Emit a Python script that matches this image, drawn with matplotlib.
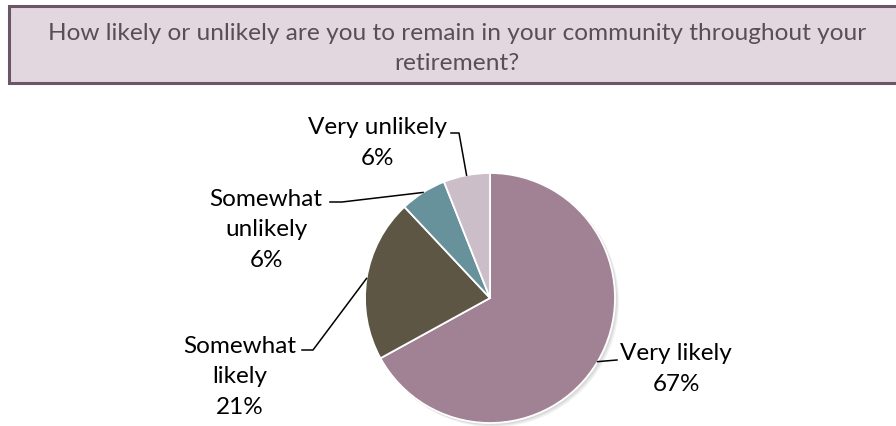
import numpy as np
import matplotlib
matplotlib.use("Agg")
import matplotlib.pyplot as plt
from matplotlib.patches import Rectangle, Circle

title = "How likely or unlikely are you to remain in your community throughout your\nretirement?"
labels = ["Very likely", "Somewhat\nlikely", "Somewhat\nunlikely", "Very unlikely"]
values = [67, 21, 6, 6]
colors = ["#A08294", "#5D5645", "#67929B", "#CCBEC8"]

W, H = 896, 427
fig = plt.figure(figsize=(W / 100, H / 100), dpi=100)
ax = fig.add_axes([0, 0, 1, 1])
ax.set_xlim(0, W)
ax.set_ylim(0, H)
ax.axis("off")

# title box (pixel coords, y measured from top)
def py(y):
    return H - y

ax.add_patch(Rectangle((9, py(84)), 900, 77, facecolor="#E2D7DE",
                       edgecolor="#6B5667", linewidth=2.2))
ax.text(457, py(48.5), title, ha="center", va="center", fontsize=17.6,
        family="Lato", color="#5A4E55", linespacing=1.5)

cx, cy, r = 490, py(299), 125

# soft shadow under the pie
for i, a in enumerate([0.05, 0.05, 0.05]):
    ax.add_patch(Circle((cx + 1.5 + i, cy - 1.5 - i), r + 0.5, facecolor="#000000",
                        alpha=a, edgecolor="none", zorder=1))

wedges, _ = ax.pie(values, colors=colors, startangle=90, counterclock=False,
                   center=(cx, cy), radius=r,
                   wedgeprops=dict(edgecolor="white", linewidth=1.3, zorder=2))
ax.set_xlim(0, W)
ax.set_ylim(0, H)
ax.set_aspect("equal")

# label centre, leader start (near text) and elbow, in pixels from top-left
label_pos = [(676, 369), (240, 377), (266, 230), (377, 143)]
leader = [[(601, 361)], [(302, 351), (313, 351)], [(330, 203), (342, 203)],
          [(451, 134), (459, 134)]]

for w, val, lab, (lx, ly), pts in zip(wedges, values, labels, label_pos, leader):
    ang = np.deg2rad((w.theta1 + w.theta2) / 2)
    ex, ey = cx + r * np.cos(ang), cy + r * np.sin(ang)
    xs = [p[0] for p in pts] + [ex]
    ys = [py(p[1]) for p in pts] + [ey]
    if len(pts) == 1:
        xs = [617, ex]
        ys = [py(pts[0][1]), ey]
    ax.plot(xs, ys, color="black", linewidth=1.1, zorder=3)
    ax.text(lx, py(ly), f"{lab}\n{val}%", ha="center", va="center",
            fontsize=17.5, family="Lato", color="black", linespacing=1.58)

fig.savefig("out.png", dpi=100)
